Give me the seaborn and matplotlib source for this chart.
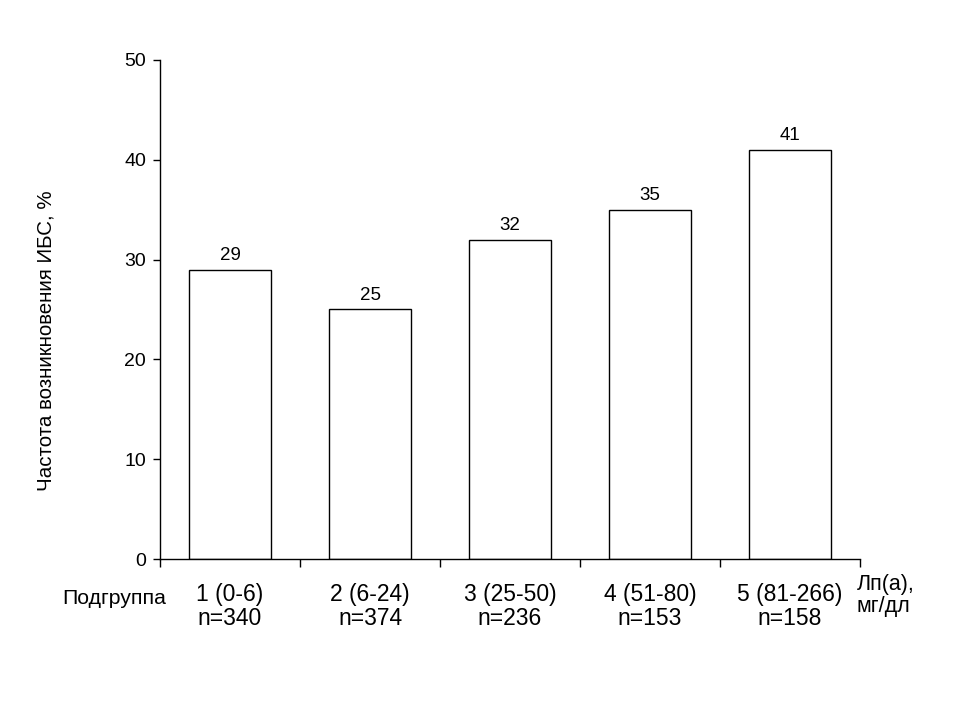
"""
Частота возникновения ИБС по подгруппам Лп(а).
"""
import matplotlib
matplotlib.use("Agg")
import matplotlib.pyplot as plt
import numpy as np
import pandas as pd
import seaborn as sns

# ── Данные ─────────────────────────────────────────────
GROUPS = ["1 (0-6)", "2 (6-24)", "3 (25-50)", "4 (51-80)", "5 (81-266)"]
N_SIZES = [340, 374, 236, 153, 158]
FREQ = [29, 25, 32, 35, 41]
Y_TICKS = [0, 10, 20, 30, 40, 50]

sns.set_theme(style="white", rc={"text.color": "black",
                                 "axes.labelcolor": "black",
                                 "xtick.color": "black",
                                 "ytick.color": "black"})
plt.rcParams["font.family"] = ["Liberation Sans", "DejaVu Sans"]

labels = [f"{g}\nn={n}" for g, n in zip(GROUPS, N_SIZES)]
df = pd.DataFrame({"group": labels, "freq": FREQ})

fig = plt.figure(figsize=(9.6, 7.2), dpi=100)
ax = fig.add_axes([0.1667, 0.2236, 0.7292, 0.6931])

sns.barplot(data=df, x="group", y="freq", color="white",
            edgecolor="black", linewidth=1.0, width=0.585, ax=ax)

for cont in ax.containers:
    ax.bar_label(cont, fmt="%d", padding=4, fontsize=13.5, color="black")

ax.set_ylim(0, 50)
ax.set_xlim(-0.5, len(GROUPS) - 0.5)
ax.set_yticks(Y_TICKS)
ax.tick_params(axis="y", labelsize=14, length=5, width=1, direction="out",
               left=True, colors="black", pad=5)
ax.tick_params(axis="x", which="major", length=0, labelsize=16.5, pad=17)
ax.set_xticks(np.arange(-0.5, len(GROUPS)), minor=True)
ax.tick_params(axis="x", which="minor", length=6, width=1, bottom=True,
               direction="out", color="black")
for t in ax.get_xticklabels():
    t.set_linespacing(1.05)

for side in ["top", "right"]:
    ax.spines[side].set_visible(False)
for side in ["left", "bottom"]:
    ax.spines[side].set_color("black")
    ax.spines[side].set_linewidth(1.0)

ax.set_xlabel("")
ax.set_ylabel("Частота возникновения ИБС, %", fontsize=14.8)
ax.yaxis.set_label_coords(-0.15, 0.437)

fig.text(0.065, 0.169, "Подгруппа", fontsize=15.3, ha="left", va="center")
fig.text(0.892, 0.173, "Лп(а),\nмг/дл", fontsize=15.5, ha="left", va="center",
         linespacing=1.05)

plt.savefig("out.png", dpi=100)
